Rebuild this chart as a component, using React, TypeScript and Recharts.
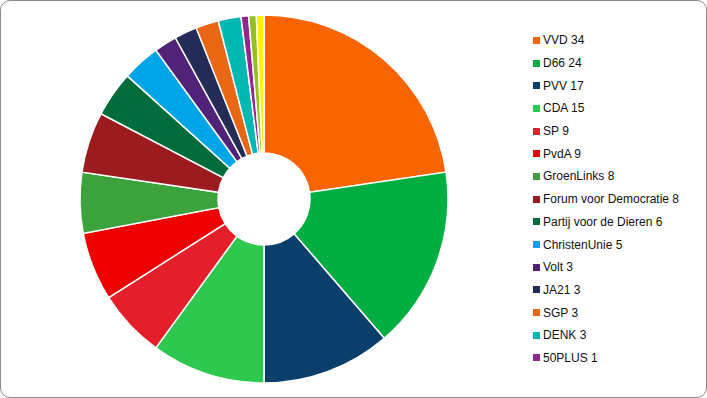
import React from 'react'
import { PieChart, Pie, Cell, Legend } from 'recharts'

// zetelverdeling Tweede Kamer
const PARTIES = [
  'VVD',
  'D66',
  'PVV',
  'CDA',
  'SP',
  'PvdA',
  'GroenLinks',
  'Forum voor Democratie',
  'Partij voor de Dieren',
  'ChristenUnie',
  'Volt',
  'JA21',
  'SGP',
  'DENK',
  '50PLUS',
  'BBB',
  'BIJ1',
]
const SEATS = [34, 24, 17, 15, 9, 9, 8, 8, 6, 5, 3, 3, 3, 3, 1, 1, 1]
const COLORS = [
  '#f86400',
  '#00ae41',
  '#0b3f6b',
  '#2dc84d',
  '#e41e2a',
  '#ee0000',
  '#3ca33c',
  '#9b1b1e',
  '#006c3b',
  '#00a5e8',
  '#502379',
  '#242b57',
  '#e96615',
  '#00b7b2',
  '#92278f',
  '#95c11f',
  '#fff200',
]
const LEGEND_ROWS = 15

const data = PARTIES.map((name, i) => ({ name, value: SEATS[i] }))

const renderLegend = (props: any) => {
  const items = (props.payload || []).slice(0, LEGEND_ROWS)
  return (
    <div>
      {items.map((item: any, i: number) => (
        <div
          key={`leg-${i}`}
          style={{
            display: 'flex',
            alignItems: 'center',
            height: 22.7,
            fontFamily: 'Liberation Sans, Arial, sans-serif',
            fontSize: 12,
            color: '#111',
            whiteSpace: 'nowrap',
          }}
        >
          <span
            style={{
              width: 7,
              height: 7,
              background: COLORS[i],
              marginRight: 3,
              display: 'inline-block',
            }}
          />
          {`${PARTIES[i]} ${SEATS[i]}`}
        </div>
      ))}
    </div>
  )
}

export default function App() {
  return (
    <div
      style={{
        position: 'absolute',
        left: 0,
        top: 0,
        width: 705,
        height: 396,
        border: '1px solid #8a8a8a',
        borderRadius: 10,
        background: '#fff',
        overflow: 'hidden',
      }}
    >
      <PieChart
        width={705}
        height={396}
        margin={{ top: 0, right: 0, bottom: 0, left: 0 }}
      >
        <Pie
          data={data}
          dataKey="value"
          nameKey="name"
          cx={263}
          cy={198}
          outerRadius={184}
          innerRadius={46}
          startAngle={90}
          endAngle={-270}
          stroke="#ffffff"
          strokeWidth={1.5}
          isAnimationActive={false}
        >
          {data.map((entry, index) => (
            <Cell key={`cell-${index}`} fill={COLORS[index]} />
          ))}
        </Pie>
        <Legend
          layout="vertical"
          verticalAlign="top"
          align="right"
          content={renderLegend}
          wrapperStyle={{ left: 532, top: 28, width: 172 }}
        />
      </PieChart>
    </div>
  )
}
